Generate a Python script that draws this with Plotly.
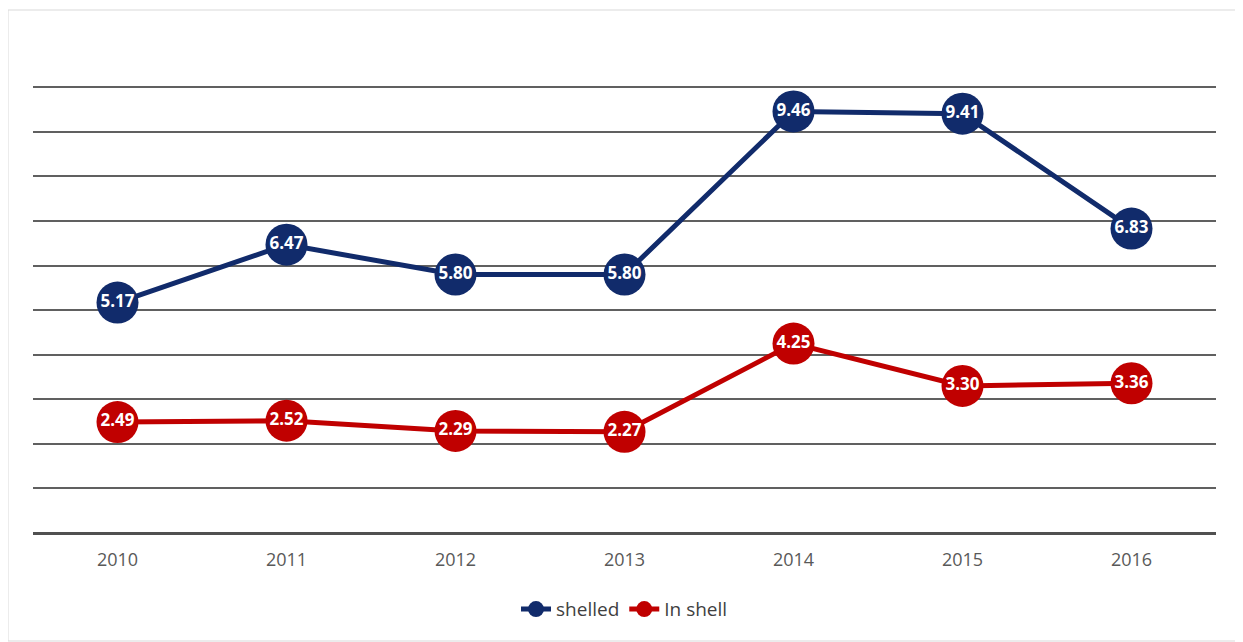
import plotly.graph_objects as go

years = ["2010", "2011", "2012", "2013", "2014", "2015", "2016"]
shelled = [5.17, 6.47, 5.80, 5.80, 9.46, 9.41, 6.83]
in_shell = [2.49, 2.52, 2.29, 2.27, 4.25, 3.30, 3.36]

navy = "#112B6B"
red = "#C00000"

fig = go.Figure()
for name, vals, col in [("shelled", shelled, navy), ("In shell", in_shell, red)]:
    fig.add_trace(go.Scatter(
        x=years, y=vals, name=name, mode="lines+markers+text",
        line=dict(color=col, width=5),
        marker=dict(size=42, color=col),
        text=[f"{v:.2f}" for v in vals], textposition="middle center",
        textfont=dict(color="white", size=17, family="Open Sans", weight="bold"),
        cliponaxis=False,
    ))

# page body has an 8px offset; compensate so the plot lands where the reference has it
OFF = 8
W, H = 1243 - OFF, 642 - OFF
l, r, t, b = 33 - OFF, 27, 86 - OFF, 109
pw = W - l - r
ph = H - t - b
fig.add_shape(type="rect", xref="paper", yref="paper",
              x0=(8 - 33) / pw, x1=(1236 - 33) / pw,
              y0=(533 - 641) / ph, y1=(533 - 10) / ph,
              line=dict(color="#d9d9d9", width=1), layer="below")

fig.update_layout(
    width=W, height=H,
    margin=dict(l=l, r=r, t=t, b=b),
    paper_bgcolor="white", plot_bgcolor="white",
    showlegend=True,
    legend=dict(orientation="h", x=0.5, xanchor="center", y=-0.128, yanchor="top",
                font=dict(size=19, color="#404040", family="Open Sans"),
                bgcolor="rgba(0,0,0,0)"),
    xaxis=dict(type="category", range=[-0.5, 6.5], showgrid=False, zeroline=False,
               showline=False, ticks="", ticklabelstandoff=14,
               tickfont=dict(size=18, color="#595959", family="Open Sans")),
    yaxis=dict(range=[0, 10.03], tickvals=list(range(0, 11)), showgrid=True,
               gridcolor="#606060", gridwidth=2,
               showticklabels=False, zeroline=True, zerolinecolor="#505050", zerolinewidth=3,
               showline=False),
)
fig.write_html("out.html")
